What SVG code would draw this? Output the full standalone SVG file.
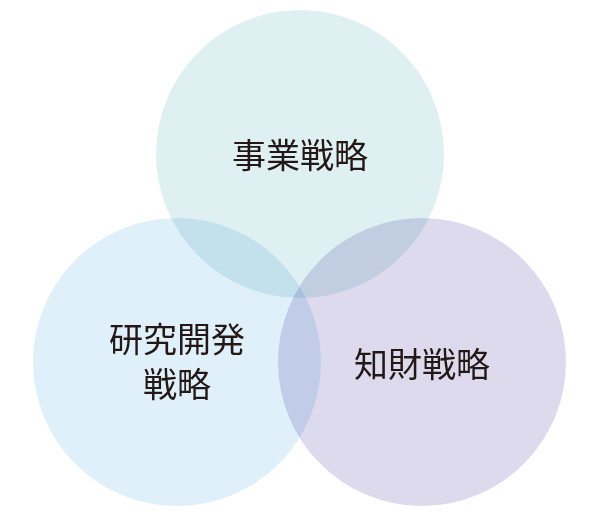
<svg xmlns="http://www.w3.org/2000/svg" width="600" height="518" viewBox="0 0 600 518">
<style>
.c{mix-blend-mode:multiply}
.t{font-family:"Noto Sans CJK JP","Noto Sans CJK SC",sans-serif;font-size:34px;fill:#231815;text-anchor:middle;dominant-baseline:central}
</style>
<rect width="600" height="518" fill="#ffffff"/>
<g id="business">
<circle class="c" cx="300" cy="154" r="144" fill="#dff0f2"/>
</g>
<g id="rnd">
<circle class="c" cx="177" cy="362" r="144" fill="#dff0fa"/>
</g>
<g id="ip">
<circle class="c" cx="422" cy="362" r="144" fill="#dddaed"/>
</g>
<g id="connectors"></g>
<g id="labels">
<text class="t" x="300" y="153">事業戦略</text>
<text class="t" x="177" y="337">研究開発</text>
<text class="t" x="177" y="382">戦略</text>
<text class="t" x="422" y="362">知財戦略</text>
</g>
</svg>
